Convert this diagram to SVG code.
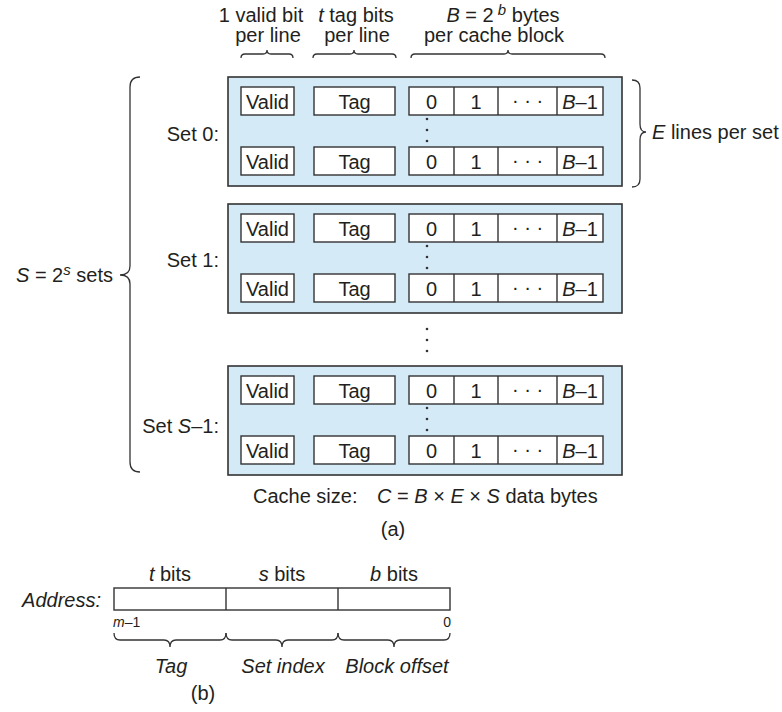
<svg xmlns="http://www.w3.org/2000/svg" xmlns:xlink="http://www.w3.org/1999/xlink" width="782" height="712" viewBox="0 0 782 712">
<style>
  text { font-family: "Liberation Sans", Arial, sans-serif; font-size: 20px; fill: #231f20; }
  .it { font-style: italic; }
  .sm { font-size: 14px; }
  .mid { text-anchor: middle; }
  .end { text-anchor: end; }
  .setbox { fill: #d5eaf7; stroke: #333; stroke-width: 1.6; }
  .cell { fill: #fff; stroke: #333; stroke-width: 1.4; }
  .brace { fill: none; stroke: #333; stroke-width: 1.3; }
  .dot { fill: #333; }
</style>
<defs>
  <g id="line">
    <rect class="cell" x="241" y="0" width="53" height="28"/>
    <text class="mid" x="267.5" y="21.5">Valid</text>
    <rect class="cell" x="314" y="0" width="81" height="28"/>
    <text class="mid" x="354.5" y="21.5">Tag</text>
    <rect class="cell" x="409" y="0" width="194" height="28"/>
    <line class="cell" x1="454" y1="0" x2="454" y2="28"/>
    <line class="cell" x1="498" y1="0" x2="498" y2="28"/>
    <line class="cell" x1="557" y1="0" x2="557" y2="28"/>
    <text class="mid" x="431.5" y="21.5">0</text>
    <text class="mid" x="476" y="21.5">1</text>
    <text class="mid" x="527.5" y="20">· · ·</text>
    <text class="mid" x="580" y="21.5"><tspan class="it">B</tspan>–1</text>
  </g>
  <g id="vdots">
    <circle class="dot" cx="427" cy="0" r="1.3"/>
    <circle class="dot" cx="427" cy="11" r="1.3"/>
    <circle class="dot" cx="427" cy="22" r="1.3"/>
  </g>
</defs>

<g id="header">
  <text class="mid" x="261" y="22">1 valid bit</text>
  <text class="mid" x="268" y="42">per line</text>
  <text class="mid" x="356" y="22"><tspan class="it">t</tspan> tag bits</text>
  <text class="mid" x="357" y="42">per line</text>
  <text class="mid" x="503" y="22"><tspan class="it">B</tspan> = 2<tspan class="it" dy="-7" font-size="15"> b</tspan><tspan dy="7"> bytes</tspan></text>
  <text class="mid" x="494" y="42">per cache block</text>
  <path class="brace" d="M241,58 Q241,54 245,54 L263,54 Q267,54 267,50 Q267,54 271,54 L289,54 Q293,54 293,58"/>
  <path class="brace" d="M313,58 Q313,54 317,54 L350,54 Q354,54 354,50 Q354,54 358,54 L392,54 Q396,54 396,58"/>
  <path class="brace" d="M411,58 Q411,54 415,54 L504,54 Q508,54 508,50 Q508,54 512,54 L601,54 Q605,54 605,58"/>
</g>

<g id="set0">
  <rect class="setbox" x="228" y="77" width="394" height="109"/>
  <text class="end" x="219" y="141">Set 0:</text>
  <use xlink:href="#line" y="87"/>
  <use xlink:href="#vdots" y="119"/>
  <use xlink:href="#line" y="147"/>
</g>

<g id="set1">
  <rect class="setbox" x="228" y="204" width="394" height="109"/>
  <text class="end" x="219" y="267">Set 1:</text>
  <use xlink:href="#line" y="214"/>
  <use xlink:href="#vdots" y="246"/>
  <use xlink:href="#line" y="274"/>
</g>

<g id="between-dots">
  <use xlink:href="#vdots" y="329"/>
</g>

<g id="setS1">
  <rect class="setbox" x="228" y="366" width="394" height="109"/>
  <text class="end" x="219" y="433">Set <tspan class="it">S</tspan>–1:</text>
  <use xlink:href="#line" y="376"/>
  <use xlink:href="#vdots" y="408"/>
  <use xlink:href="#line" y="436"/>
</g>

<g id="e-brace">
  <path class="brace" d="M632,80 Q640,80 640,88 L640,124 Q640,132 646,132 Q640,132 640,140 L640,179 Q640,187 632,187"/>
  <text x="652" y="139"><tspan class="it">E</tspan> lines per set</text>
</g>

<g id="s-brace">
  <path class="brace" d="M140,77 Q130,77 130,87 L130,266 Q130,275 120,275 Q130,275 130,284 L130,462 Q130,472 140,472"/>
  <text class="end" x="113" y="282"><tspan class="it">S</tspan> = 2<tspan class="it" dy="-7" font-size="15">s</tspan><tspan dy="7"> sets</tspan></text>
</g>

<g id="cache-size">
  <text x="253" y="503">Cache size:</text>
  <text x="377" y="503"><tspan class="it">C</tspan> = <tspan class="it">B</tspan> × <tspan class="it">E</tspan> × <tspan class="it">S</tspan> data bytes</text>
  <text class="mid" x="393" y="536">(a)</text>
</g>

<g id="address">
  <text class="end it" x="101" y="607">Address:</text>
  <text class="mid" x="170" y="581"><tspan class="it">t</tspan> bits</text>
  <text class="mid" x="282" y="581"><tspan class="it">s</tspan> bits</text>
  <text class="mid" x="394" y="581"><tspan class="it">b</tspan> bits</text>
  <rect class="cell" x="114" y="588" width="336" height="22"/>
  <line class="cell" x1="226" y1="588" x2="226" y2="610"/>
  <line class="cell" x1="338" y1="588" x2="338" y2="610"/>
  <text class="sm" x="113" y="627"><tspan class="it">m</tspan>–1</text>
  <text class="sm end" x="451" y="627">0</text>
  <path class="brace" d="M114,633 Q114,640 120,640 L164,640 Q170,640 170,647 Q170,640 176,640 L220,640 Q226,640 226,633"/>
  <path class="brace" d="M226,633 Q226,640 232,640 L276,640 Q282,640 282,647 Q282,640 288,640 L332,640 Q338,640 338,633"/>
  <path class="brace" d="M338,633 Q338,640 344,640 L388,640 Q394,640 394,647 Q394,640 400,640 L444,640 Q450,640 450,633"/>
  <text class="mid it" x="171" y="673">Tag</text>
  <text class="mid it" x="283" y="673">Set index</text>
  <text class="mid it" x="397" y="673">Block offset</text>
  <text class="mid" x="203" y="700">(b)</text>
</g>
</svg>
